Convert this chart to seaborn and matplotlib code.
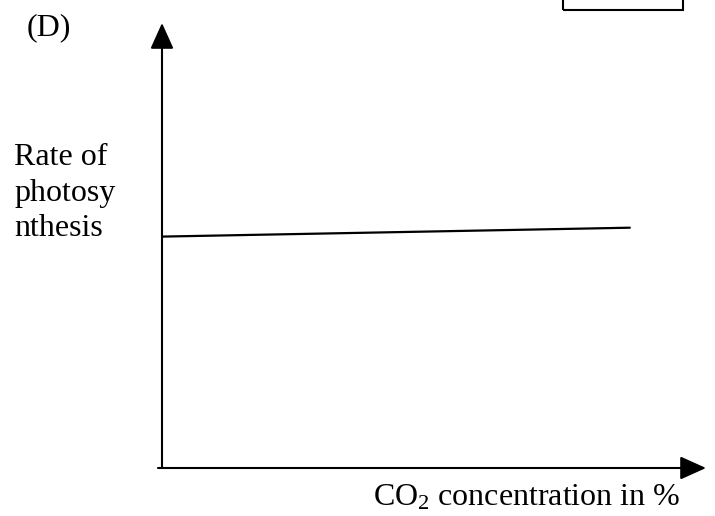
import matplotlib
matplotlib.use("Agg")
import matplotlib.pyplot as plt
import matplotlib.patches as mpatches
import seaborn as sns
import pandas as pd

# Data
co2 = [0.0, 8.6]
rate = [5.2, 5.4]
panel_label = "(D)"
y_label = "Rate of\nphotosy\nnthesis"
x_label = "CO$_2$ concentration in %"

sns.set_theme(style="white")
plt.rcParams["font.family"] = ["Liberation Serif", "DejaVu Serif"]
plt.rcParams["text.color"] = "black"
plt.rcParams["mathtext.fontset"] = "custom"
plt.rcParams["mathtext.rm"] = "Liberation Serif"
plt.rcParams["mathtext.it"] = "Liberation Serif:italic"
plt.rcParams["mathtext.bf"] = "Liberation Serif:bold"

W, H = 715, 516
fig = plt.figure(figsize=(W / 100, H / 100), dpi=100)
fig.patch.set_facecolor("white")

x0, y0 = 162, 468   # origin in pixels (from top)
xt, yt = 706, 23    # arrow tips
ax = fig.add_axes([x0 / W, (H - y0) / H, (xt - x0) / W, (y0 - yt) / H])
ax.set_xlim(0, 10)
ax.set_ylim(0, 10)
for s in ax.spines.values():
    s.set_visible(False)
ax.set_xticks([])
ax.set_yticks([])
ax.patch.set_alpha(0)

df = pd.DataFrame({"co2": co2, "rate": rate})
sns.lineplot(data=df, x="co2", y="rate", ax=ax, color="black", linewidth=1.6)
ax.set_xlabel("")
ax.set_ylabel("")

arrow = dict(arrowstyle="-|>,head_length=1.0,head_width=0.45", color="black",
             lw=1.5, mutation_scale=16, shrinkA=0, shrinkB=0)
ax.annotate("", xy=(0, 1), xytext=(0, 0), xycoords="axes fraction",
            textcoords="axes fraction", arrowprops=arrow, annotation_clip=False)
ax.annotate("", xy=(1, 0), xytext=(-4 / (xt - x0), 0), xycoords="axes fraction",
            textcoords="axes fraction", arrowprops=arrow, annotation_clip=False)

def px(x, y):
    return x / W, 1 - y / H

fs = 23
fig.text(*px(27, 28), panel_label, fontsize=fs, ha="left", va="center", color="black")
fig.text(*px(14, 143), y_label, fontsize=fs, ha="left", va="top", linespacing=1.3,
         color="black")
fig.text(*px(527, 506), x_label, fontsize=fs, ha="center", va="baseline", color="black")

# box at top right
rect = mpatches.Rectangle(px(563, 10), (683 - 563) / W, 20 / H, transform=fig.transFigure,
                          fill=False, edgecolor="black", linewidth=1.5, clip_on=False)
fig.add_artist(rect)

fig.savefig("out.png", dpi=100)
